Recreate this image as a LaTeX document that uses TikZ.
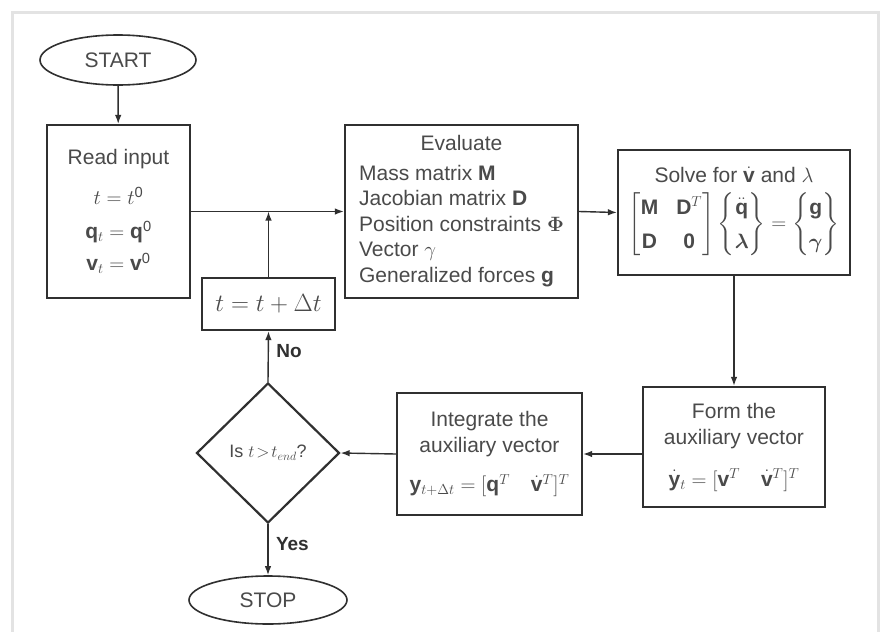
\documentclass[tikz,border=0pt]{standalone}
\usepackage{amsmath,amssymb}
\usepackage{fontspec}
\setmainfont{Liberation Sans}
\setmathrm{Liberation Sans}
\setboldmathrm{Liberation Sans}[BoldFont=Liberation Sans Bold]
\usetikzlibrary{shapes.geometric,arrows.meta}
\definecolor{ink}{HTML}{303030}
\definecolor{txt}{HTML}{4A4A4A}
\newcommand{\bv}[1]{\mathbf{#1}}
\begin{document}
\begin{tikzpicture}[x=1pt,y=-1pt,
  every node/.style={text=txt,font=\fontsize{21}{25}\selectfont},
  box/.style={draw=ink,line width=2.2pt,rectangle,inner sep=0pt,align=center},
  term/.style={draw=ink,line width=1.6pt,ellipse,inner sep=0pt},
  test/.style={draw=ink,line width=2.2pt,diamond,inner sep=0pt},
  flow/.style={draw=ink,line width=1.4pt,-{Latex[length=9pt,width=6.5pt]}},
  tag/.style={font=\bfseries\fontsize{19}{22}\selectfont,text=ink}]
% canvas and faint outer frame
\useasboundingbox (0,0) rectangle (883,632);
\fill[white] (0,0) rectangle (883,632);
\draw[gray!22,line width=3pt] (12,632) -- (12,12) -- (878,12) -- (878,632);

% nodes
\node[term,minimum width=156,minimum height=50] (start) at (118,60) {START};
\node[box,minimum width=143,minimum height=173] (read) at (118.5,211.5)
  {Read input\\[15pt] $t = t^{\mathrm{0}}$\\[9pt] $\bv{q}_{t} = \bv{q}^{\mathrm{0}}$\\[7pt] $\bv{v}_{t} = \bv{v}^{\mathrm{0}}$};
\node[box,minimum width=233,minimum height=173,font=\fontsize{21}{25.5}\selectfont] (eval) at (461.5,211.5)
  {\begin{tabular}{@{}l@{}}\multicolumn{1}{c}{Evaluate}\\[4pt]
   Mass matrix $\bv{M}$\\ Jacobian matrix $\bv{D}$\\ Position constraints $\boldsymbol{\Phi}$\\
   Vector $\gamma$\\ Generalized forces $\bv{g}$\end{tabular}};
\node[box,minimum width=232,minimum height=125] (solve) at (734,212.5)
  {Solve for $\dot{\bv{v}}$ and $\lambda$\\[7pt]
   $\renewcommand{\arraystretch}{1.35}\setlength{\arraycolsep}{9pt}
    \begin{bmatrix}\bv{M} & \bv{D}^{T}\\ \bv{D} & \bv{0}\end{bmatrix}
    \setlength{\arraycolsep}{2pt}
    \begin{Bmatrix}\ddot{\bv{q}}\\ \boldsymbol{\lambda}\end{Bmatrix}
    = \begin{Bmatrix}\bv{g}\\ \boldsymbol{\gamma}\end{Bmatrix}$};
\node[box,minimum width=182,minimum height=120,font=\fontsize{21}{26}\selectfont] (form) at (734,447)
  {Form the\\ auxiliary vector\\[16pt] $\dot{\bv{y}}_{t} = [\bv{v}^{T}\quad \dot{\bv{v}}^{T}]^{T}$};
\node[box,minimum width=185,minimum height=122,font=\fontsize{21}{26}\selectfont] (integ) at (489.5,454)
  {Integrate the\\ auxiliary vector\\[13pt] $\bv{y}_{t+\Delta t} = [\bv{q}^{T}\quad \dot{\bv{v}}^{T}]^{T}$};
\node[test,minimum width=143,minimum height=140,font=\fontsize{18}{21}\selectfont] (dia) at (268,453)
  {Is $t\!>\!t_{end}$?};
\node[box,minimum width=133,minimum height=52,font=\fontsize{24}{28}\selectfont] (tinc) at (268.5,304)
  {$t = t + \Delta t$};
\node[term,minimum width=158,minimum height=48] (stop) at (268,600) {STOP};
\coordinate (join) at (tinc.north |- read.east);

% connectors
\draw[flow] (start) -- (read);
\draw[flow] (read.east) -- (eval.west);
\draw[flow] (tinc.north) -- (join);
\draw[flow] (eval.east) -- (solve.west);
\draw[flow] (solve.south) -- (form.north);
\draw[flow] (form.west |- integ.east) -- (integ.east);
\draw[flow] (integ.west) -- (dia.east);
\draw[flow] (dia.north) -- node[tag,right=4pt,pos=0.6] {No} (tinc.south);
\draw[flow] (dia.south) -- node[tag,right=4pt,pos=0.4] {Yes} (stop.north);
\end{tikzpicture}
\end{document}
